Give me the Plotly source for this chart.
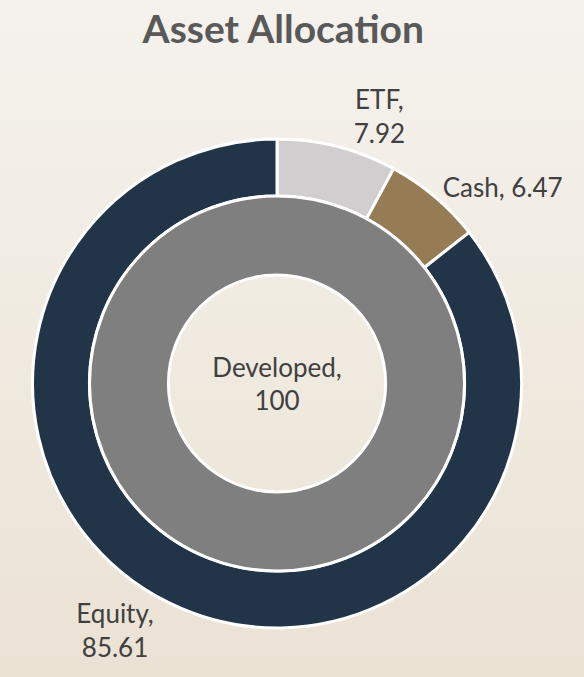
import base64
import plotly.graph_objects as go

# outer ring (asset class)
asset_labels = ["ETF", "Cash", "Equity"]
asset_values = [7.92, 6.47, 85.61]
asset_colors = ["#d0cece", "#967c55", "#223548"]

# inner ring (region)
region_labels = ["Developed"]
region_values = [100]
region_colors = ["#7f7f7f"]

FONT = "Lato"
TEXT_COLOR = "#404040"

# soft vertical gradient for the background (svg as data uri)
svg = (
    '<svg xmlns="http://www.w3.org/2000/svg" width="584" height="677">'
    '<defs><linearGradient id="g" x1="0" y1="0" x2="0" y2="1">'
    '<stop offset="0" stop-color="#f5f2ed"/>'
    '<stop offset="1" stop-color="#ebe2d4"/>'
    '</linearGradient></defs>'
    '<rect width="584" height="677" fill="url(#g)"/></svg>'
)
bg_src = "data:image/svg+xml;base64," + base64.b64encode(svg.encode()).decode()

fig = go.Figure()

fig.add_trace(go.Pie(
    labels=asset_labels,
    values=asset_values,
    hole=0.767,
    sort=False,
    direction="clockwise",
    rotation=0,
    marker=dict(colors=asset_colors, line=dict(color="white", width=3)),
    textposition="outside",
    texttemplate=["%{label},<br>%{value}", "%{label}, %{value}", "%{label},<br>%{value}"],
    textfont=dict(family=FONT, size=26, color=TEXT_COLOR),
    domain=dict(x=[0.0557, 0.893], y=[0.0724, 0.7947]),
    showlegend=False,
))

fig.add_trace(go.Pie(
    labels=region_labels,
    values=region_values,
    hole=0.579,
    sort=False,
    direction="clockwise",
    marker=dict(colors=region_colors, line=dict(color="white", width=3)),
    textinfo="none",
    title=dict(
        text=f"{region_labels[0]},<br>{region_values[0]}",
        position="middle center",
        font=dict(family=FONT, size=26, color=TEXT_COLOR),
    ),
    domain=dict(x=[0.1533, 0.7954], y=[0.1566, 0.7105]),
    showlegend=False,
))

fig.update_layout(
    width=584,
    height=677,
    margin=dict(l=0, r=0, t=0, b=0),
    paper_bgcolor="#f0ebe2",
    title=dict(
        text="<b>Asset Allocation</b>",
        x=0.485,
        xanchor="center",
        y=0.957,
        yanchor="middle",
        font=dict(family=FONT, size=39, color="#595959"),
    ),
    images=[dict(
        source=bg_src,
        xref="paper", yref="paper",
        x=0, y=1, sizex=1, sizey=1,
        xanchor="left", yanchor="top",
        sizing="stretch", layer="below",
    )],
)

fig.write_html(
    "out.html",
    config={"displayModeBar": False},
    post_script="document.body.style.margin='0';",
)
